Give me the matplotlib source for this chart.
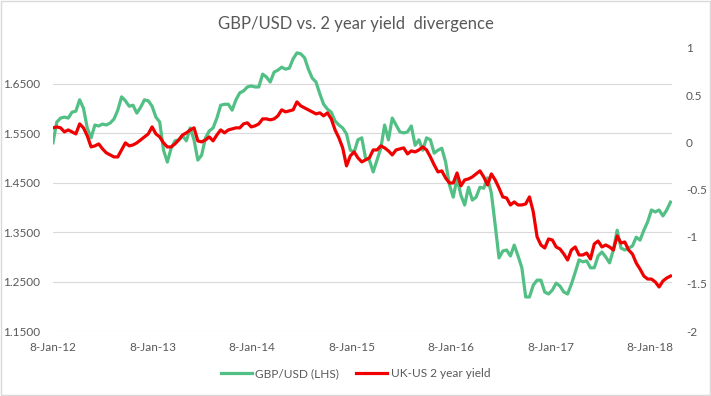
import matplotlib
matplotlib.use("Agg")
import matplotlib.pyplot as plt
from matplotlib.lines import Line2D
from matplotlib.patches import Rectangle
import matplotlib.ticker as mticker
import pandas as pd

plt.rcParams['font.family'] = ['Lato', 'DejaVu Sans']

# fortnightly samples starting 8-Jan-12
start_date = "2012-01-08"

gbpusd = [
    1.531, 1.573, 1.581, 1.583, 1.581, 1.593, 1.595, 1.618, 1.601, 1.561,
    1.541, 1.567, 1.565, 1.569, 1.567, 1.571, 1.579, 1.597, 1.624, 1.616,
    1.605, 1.607, 1.591, 1.603, 1.618, 1.616, 1.605, 1.583, 1.573, 1.516,
    1.492, 1.520, 1.535, 1.537, 1.545, 1.535, 1.561, 1.537, 1.496, 1.506,
    1.541, 1.555, 1.561, 1.581, 1.607, 1.609, 1.609, 1.597, 1.618, 1.632,
    1.636, 1.644, 1.646, 1.644, 1.644, 1.670, 1.664, 1.654, 1.674, 1.678,
    1.684, 1.680, 1.682, 1.701, 1.713, 1.711, 1.703, 1.680, 1.662, 1.654,
    1.630, 1.609, 1.599, 1.593, 1.575, 1.567, 1.561, 1.549, 1.516, 1.512,
    1.537, 1.541, 1.500, 1.496, 1.472, 1.496, 1.520, 1.567, 1.537, 1.581,
    1.567, 1.553, 1.551, 1.553, 1.565, 1.526, 1.537, 1.516, 1.541, 1.537,
    1.510, 1.516, 1.520, 1.492, 1.446, 1.421, 1.460, 1.425, 1.405, 1.441,
    1.415, 1.421, 1.441, 1.439, 1.460, 1.429, 1.365, 1.298, 1.312, 1.314,
    1.302, 1.324, 1.302, 1.278, 1.219, 1.219, 1.243, 1.253, 1.253, 1.229,
    1.225, 1.233, 1.247, 1.241, 1.229, 1.225, 1.245, 1.269, 1.294, 1.290,
    1.292, 1.278, 1.278, 1.302, 1.310, 1.300, 1.288, 1.314, 1.354, 1.318,
    1.314, 1.318, 1.322, 1.340, 1.334, 1.354, 1.371, 1.395, 1.391, 1.395,
    1.383, 1.395, 1.411,
]

uk_us_2y = [
    0.153, 0.163, 0.153, 0.110, 0.131, 0.110, 0.089, 0.195, 0.153, 0.068,
    -0.049, -0.038, -0.017, -0.070, -0.112, -0.134, -0.155, -0.155, -0.081, -0.006,
    -0.038, -0.028, -0.006, 0.025, 0.057, 0.089, 0.163, 0.089, 0.057, -0.006,
    -0.049, -0.049, -0.017, 0.025, 0.078, 0.100, 0.131, 0.153, 0.015, 0.004,
    0.025, 0.057, 0.015, 0.078, 0.131, 0.100, 0.131, 0.142, 0.153, 0.153,
    0.195, 0.206, 0.163, 0.174, 0.195, 0.248, 0.248, 0.238, 0.248, 0.280,
    0.344, 0.322, 0.333, 0.344, 0.428, 0.386, 0.365, 0.344, 0.322, 0.301,
    0.312, 0.280, 0.312, 0.248, 0.131, 0.047, -0.059, -0.250, -0.144, -0.102,
    -0.165, -0.208, -0.187, -0.165, -0.081, -0.081, -0.038, -0.059, -0.091, -0.134,
    -0.081, -0.070, -0.059, -0.123, -0.091, -0.102, -0.081, -0.049, -0.081, -0.155,
    -0.240, -0.314, -0.303, -0.378, -0.431, -0.431, -0.325, -0.462, -0.399, -0.388,
    -0.367, -0.335, -0.303, -0.367, -0.452, -0.335, -0.399, -0.484, -0.579, -0.590,
    -0.664, -0.632, -0.664, -0.664, -0.653, -0.579, -0.738, -1.003, -1.088, -1.120,
    -1.024, -1.035, -1.109, -1.130, -1.183, -1.247, -1.141, -1.109, -1.194, -1.194,
    -1.173, -1.236, -1.077, -1.046, -1.109, -1.088, -1.109, -1.141, -0.993, -1.067,
    -1.056, -1.141, -1.183, -1.279, -1.343, -1.417, -1.449, -1.449, -1.480, -1.533,
    -1.470, -1.438, -1.417,
]

dates = pd.date_range(start_date, periods=len(gbpusd), freq="14D")
tick_dates = pd.to_datetime(["2012-01-08", "2013-01-08", "2014-01-08", "2015-01-08",
                             "2016-01-08", "2017-01-08", "2018-01-08"])

GREEN = "#52c085"
RED = "#f00000"
TEXT = "#595959"
GRID = "#d9d9d9"

fig = plt.figure(figsize=(7.11, 3.96), dpi=100)
ax = fig.add_axes([0.0745, 0.164, 0.8705, 0.715])
ax2 = ax.twinx()

ax.plot(dates, gbpusd, color=GREEN, lw=2.3, solid_joinstyle="round")
ax2.plot(dates, uk_us_2y, color=RED, lw=2.3, solid_joinstyle="round")

ax.set_xlim(pd.Timestamp("2012-01-08"), pd.Timestamp("2018-03-30"))
ax.set_ylim(1.15, 1.723)
ax2.set_ylim(-2, 1)

ax.set_yticks([1.15, 1.25, 1.35, 1.45, 1.55, 1.65])
ax.yaxis.set_major_formatter(mticker.FormatStrFormatter("%.4f"))
ax2.set_yticks([-2, -1.5, -1, -0.5, 0, 0.5, 1])
ax2.yaxis.set_major_formatter(mticker.FuncFormatter(lambda v, p: f"{v:g}"))
ax.set_xticks(tick_dates)
ax.set_xticklabels([f"{d.day}-{d:%b}-{d:%y}" for d in tick_dates])

ax.grid(axis="y", color=GRID, lw=0.8)
ax.set_axisbelow(True)
for a in (ax, ax2):
    for s in a.spines.values():
        s.set_visible(False)
    a.tick_params(length=0, labelsize=8.5, labelcolor=TEXT)
ax.tick_params(axis="y", pad=9)
ax.tick_params(axis="x", pad=8)
ax2.tick_params(axis="y", pad=10)

fig.suptitle("GBP/USD vs. 2 year yield  divergence", x=0.5, y=0.96,
             fontsize=12, color=TEXT)

handles = [Line2D([], [], color=GREEN, lw=2.3), Line2D([], [], color=RED, lw=2.3)]
fig.legend(handles, ["GBP/USD (LHS)", "UK-US 2 year yield"], loc="center",
           bbox_to_anchor=(0.5, 0.056), ncol=2, frameon=False, fontsize=8.6,
           labelcolor=TEXT, handlelength=2.6, handletextpad=0.3, columnspacing=1.4)

fig.patches.append(Rectangle((0.001, 0.002), 0.997, 0.995, transform=fig.transFigure,
                             fill=False, edgecolor=GRID, lw=1))

fig.savefig("out.png", dpi=100)
